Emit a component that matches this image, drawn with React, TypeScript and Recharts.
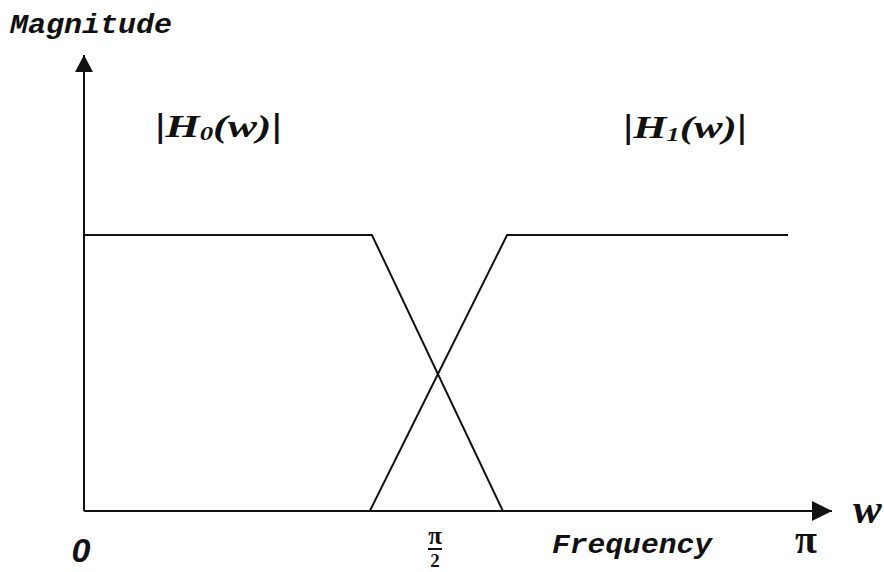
import React from 'react';
import { LineChart, Line, XAxis, YAxis, ReferenceLine, ReferenceDot } from 'recharts';

// Frequency axis in units of pi, magnitude normalised to 1
const h0X = [0, 0.409, 0.595];
const h0Y = [1, 1, 0];
const h1X = [0.406, 0.601, 1.0];
const h1Y = [0, 1, 1];
const xTicks = [0, 0.5, 1];
const xTickLabels = ['0', 'π/2', 'π'];
const X_MAX = 1.0625;
const Y_MAX = 1.652;

const h0Data = h0X.map((x, i) => ({ x, y: h0Y[i] }));
const h1Data = h1X.map((x, i) => ({ x, y: h1Y[i] }));

const INK = '#111';
const MONO = '"Liberation Mono", "Courier New", monospace';
const SERIF = '"Liberation Serif", "Times New Roman", serif';
const SANS = '"Liberation Sans", Arial, sans-serif';

const XTick = (props: any) => {
  const { x, y, payload } = props;
  const idx = xTicks.indexOf(payload.value);
  const label = xTickLabels[idx];
  if (label === '0') {
    return (
      <text x={x - 3} y={y + 51} textAnchor="middle" fontFamily={SANS} fontWeight="bold" fontStyle="italic" fontSize={34} fill={INK}>
        0
      </text>
    );
  }
  if (label === 'π/2') {
    return (
      <g>
        <text x={x - 1} y={y + 33} textAnchor="middle" fontFamily={SERIF} fontWeight="bold" fontSize={25} fill={INK}>
          π
        </text>
        <line x1={x - 8} x2={x + 6} y1={y + 38} y2={y + 38} stroke={INK} strokeWidth={2} />
        <text x={x - 1} y={y + 56} textAnchor="middle" fontFamily={SERIF} fontWeight="bold" fontSize={19} fill={INK}>
          2
        </text>
      </g>
    );
  }
  return (
    <text x={x + 18} y={y + 42} textAnchor="middle" fontFamily={SERIF} fontWeight="bold" fontSize={40} fill={INK}>
      π
    </text>
  );
};

const upArrow = (props: any) => {
  const { cx, cy } = props;
  return <polygon points={`${cx},${cy} ${cx - 9},${cy + 17} ${cx + 9},${cy + 17}`} fill={INK} />;
};

const rightArrow = (props: any) => {
  const { cx, cy } = props;
  return <polygon points={`${cx},${cy} ${cx - 20},${cy - 10} ${cx - 20},${cy + 10}`} fill={INK} />;
};

const monoLabel = (text: string, len: number) => (props: any) => (
  <text
    x={props.cx}
    y={props.cy}
    fontFamily={MONO}
    fontWeight="bold"
    fontStyle="italic"
    fontSize={27}
    fill={INK}
    textLength={len}
    lengthAdjust="spacingAndGlyphs"
  >
    {text}
  </text>
);

const hLabel = (sub: string, len: number) => (props: any) => (
  <text
    x={props.cx}
    y={props.cy}
    fontFamily={SERIF}
    fontWeight="bold"
    fontStyle="italic"
    fontSize={31}
    fill={INK}
    textLength={len}
    lengthAdjust="spacingAndGlyphs"
  >
    <tspan fontStyle="normal" fontSize={34}>|</tspan>
    <tspan>H</tspan>
    <tspan fontSize={19} dy={3}>{sub}</tspan>
    <tspan dy={-3}>(w)</tspan>
    <tspan fontStyle="normal" fontSize={34}>|</tspan>
  </text>
);

const wLabel = (props: any) => (
  <text x={props.cx} y={props.cy} fontFamily={SERIF} fontWeight="bold" fontStyle="italic" fontSize={43} fill={INK}>
    w
  </text>
);

export default function App() {
  return (
    <div style={{ position: 'absolute', left: 0, top: 0, width: 884, height: 572, background: '#fff' }}>
      <LineChart width={884} height={572} margin={{ top: 55, right: 52, bottom: 0, left: 84 }}>
        <XAxis
          type="number"
          dataKey="x"
          domain={[0, X_MAX]}
          ticks={xTicks}
          tick={<XTick />}
          tickLine={false}
          tickSize={0}
          tickMargin={0}
          height={61}
          axisLine={{ stroke: INK, strokeWidth: 2 }}
          allowDataOverflow
        />
        <YAxis type="number" dataKey="y" domain={[0, Y_MAX]} hide allowDataOverflow />
        <ReferenceLine x={0} stroke={INK} strokeWidth={2} />
        <ReferenceDot x={0} y={Y_MAX} r={0} shape={upArrow} ifOverflow="visible" />
        <ReferenceDot x={X_MAX} y={0} r={0} shape={rightArrow} ifOverflow="visible" />
        <Line data={h0Data} dataKey="y" type="linear" stroke={INK} strokeWidth={2} dot={false} isAnimationActive={false} />
        <Line data={h1Data} dataKey="y" type="linear" stroke={INK} strokeWidth={2} dot={false} isAnimationActive={false} />
        <ReferenceDot x={-0.1051} y={1.7319} r={0} shape={monoLabel('Magnitude', 162)} ifOverflow="visible" />
        <ReferenceDot x={0.6648} y={-0.1522} r={0} shape={monoLabel('Frequency', 160)} ifOverflow="visible" />
        <ReferenceDot x={0.1009} y={1.3551} r={0} shape={hLabel('0', 127)} ifOverflow="visible" />
        <ReferenceDot x={0.7656} y={1.3514} r={0} shape={hLabel('1', 124)} ifOverflow="visible" />
        <ReferenceDot x={1.0923} y={-0.0435} r={0} shape={wLabel} ifOverflow="visible" />
      </LineChart>
    </div>
  );
}
